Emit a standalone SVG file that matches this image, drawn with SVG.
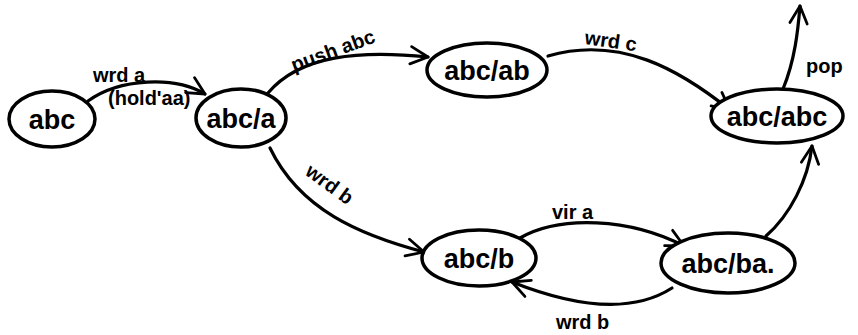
<svg xmlns="http://www.w3.org/2000/svg" width="858" height="335" viewBox="0 0 858 335">
  <style>
    .node ellipse { fill: #fff; stroke: #000; stroke-width: 3.5; }
    .node text { font-family: "Liberation Sans", Arial, sans-serif; font-size: 27px; font-weight: bold; text-anchor: middle; fill: #000; }
    .edge { fill: none; stroke: #000; stroke-width: 3.2; stroke-linecap: round; marker-end: url(#arrow); }
    .lbl { font-family: "Liberation Sans", Arial, sans-serif; font-size: 20px; font-weight: bold; fill: #000; }
  </style>
  <defs>
    <marker id="arrow" viewBox="0 0 12 12" refX="11" refY="6" markerWidth="6.5" markerHeight="6.5" orient="auto" markerUnits="strokeWidth">
      <path d="M1,1 L11,6 L1,11" fill="none" stroke="#000" stroke-width="1.6" stroke-linecap="round" stroke-linejoin="round"/>
    </marker>
  </defs>
  <rect width="858" height="335" fill="#fff"/>

  <g id="connectors">
    <path class="edge" d="M88,101 C120,78 175,76 205,94"/>
    <path class="edge" d="M268,93 C300,55 360,50 428,57"/>
    <path class="edge" d="M548,56 C620,35 680,70 730,110"/>
    <path class="edge" d="M783,89 C795,60 798,30 800,6"/>
    <path class="edge" d="M270,148 C300,210 360,235 424,252"/>
    <path class="edge" d="M520,238 C560,215 630,218 684,246"/>
    <path class="edge" d="M672,288 C630,315 570,305 512,282"/>
    <path class="edge" d="M766,236 C790,215 808,180 812,146"/>
  </g>

  <g id="edge-labels">
    <text class="lbl" x="93" y="82">wrd a</text>
    <text class="lbl" x="108" y="105" font-size="15">(hold'aa)</text>
    <text class="lbl" x="294" y="72" transform="rotate(-20 294 72)">push abc</text>
    <text class="lbl" x="584" y="44" transform="rotate(8 584 44)">wrd c</text>
    <text class="lbl" x="806" y="73">pop</text>
    <text class="lbl" x="304" y="174" transform="rotate(36 304 174)">wrd b</text>
    <text class="lbl" x="552" y="219">vir a</text>
    <text class="lbl" x="556" y="329">wrd b</text>
  </g>

  <g id="n-abc" class="node">
    <ellipse cx="52" cy="119" rx="43" ry="28"/>
    <text x="52" y="129">abc</text>
  </g>
  <g id="n-abc-a" class="node">
    <ellipse cx="241" cy="118" rx="45" ry="29"/>
    <text x="241" y="128">abc/a</text>
  </g>
  <g id="n-abc-ab" class="node">
    <ellipse cx="487" cy="70" rx="60" ry="27"/>
    <text x="487" y="80">abc/ab</text>
  </g>
  <g id="n-abc-abc" class="node">
    <ellipse cx="777" cy="116" rx="66" ry="27"/>
    <text x="777" y="126">abc/abc</text>
  </g>
  <g id="n-abc-b" class="node">
    <ellipse cx="479" cy="258" rx="57" ry="28"/>
    <text x="479" y="268">abc/b</text>
  </g>
  <g id="n-abc-ba" class="node">
    <ellipse cx="728" cy="263" rx="67" ry="30"/>
    <text x="728" y="273">abc/ba.</text>
  </g>
</svg>
